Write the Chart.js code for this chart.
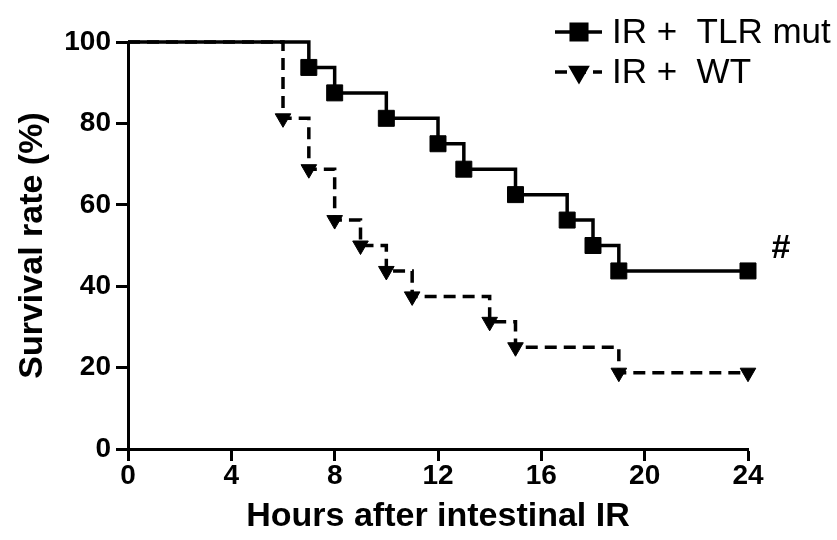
<!DOCTYPE html>
<html>
<head>
<meta charset="utf-8">
<script src="https://cdn.jsdelivr.net/npm/chart.js@4.4.1/dist/chart.umd.min.js"></script>
<style>
  html, body { margin: 0; padding: 0; background: #fff; }
  #wrap { position: relative; width: 837px; height: 540px; }
</style>
</head>
<body>
<div id="wrap"><canvas id="chart" width="837" height="540"></canvas></div>
<script>
// Kaplan-Meier steps: hour of each drop and the survival after it
const tlrHours = [0, 7, 8, 10, 12, 13, 15, 17, 18, 19, 24]
const tlrSurvival = [100, 93.75, 87.5, 81.25, 75, 68.75, 62.5, 56.25, 50, 43.75, 43.75]
const wtHours = [0, 6, 7, 8, 9, 10, 11, 14, 15, 19, 24]
const wtSurvival = [100, 81.25, 68.75, 56.25, 50, 43.75, 37.5, 31.25, 25, 18.75, 18.75]

const seriesNames = ['IR +  TLR mut', 'IR +  WT']
const xTicks = [0, 4, 8, 12, 16, 20, 24]
const yTicks = [0, 20, 40, 60, 80, 100]
const significanceMark = '#'

const FONT = '"Liberation Sans", Arial, sans-serif'

const toPoints = (xs, ys) => xs.map((x, i) => ({ x: x, y: ys[i] }))
// no marker on the starting point at time 0
const markerRadii = (xs, r) => xs.map((x, i) => i === 0 ? 0 : r)

const legendPlugin = {
  id: 'stepLegend',
  afterDraw(chart) {
    const ctx = chart.ctx
    const rows = [
      { y: 32, dash: [], style: 'rect', radius: 11, rotation: 0 },
      { y: 72, dash: [12, 7], style: 'triangle', radius: 9, rotation: 180 },
    ]
    ctx.save()
    rows.forEach((row, i) => {
      ctx.strokeStyle = '#000'
      ctx.fillStyle = '#000'
      ctx.lineWidth = 3.5
      ctx.setLineDash(row.dash)
      ctx.beginPath()
      ctx.moveTo(555, row.y)
      ctx.lineTo(602, row.y)
      ctx.stroke()
      ctx.setLineDash([])
      Chart.helpers.drawPoint(ctx, {
        pointStyle: row.style,
        radius: row.radius,
        rotation: row.rotation,
        borderWidth: 1,
      }, 579, row.y)
      ctx.fillStyle = '#000'
      ctx.font = '35px ' + FONT
      ctx.textBaseline = 'middle'
      ctx.textAlign = 'left'
      ctx.fillText(seriesNames[i], 612, row.y + 1)
    })

    // significance marker next to the last TLR point
    const xs = chart.scales.x
    const ys = chart.scales.y
    ctx.font = 'bold 34px ' + FONT
    ctx.textAlign = 'center'
    ctx.textBaseline = 'middle'
    ctx.fillText(significanceMark,
      xs.getPixelForValue(tlrHours[tlrHours.length - 1]) + 33,
      ys.getPixelForValue(tlrSurvival[tlrSurvival.length - 1]) - 22)
    ctx.restore()
  }
}

const ctx = document.getElementById('chart').getContext('2d')
new Chart(ctx, {
  type: 'line',
  data: {
    datasets: [
      {
        label: seriesNames[0],
        data: toPoints(tlrHours, tlrSurvival),
        stepped: true,
        borderColor: '#000',
        backgroundColor: '#000',
        borderWidth: 3.5,
        pointStyle: 'rect',
        pointRadius: markerRadii(tlrHours, 11.3),
        pointBorderWidth: 1,
        clip: false,
      },
      {
        label: seriesNames[1],
        data: toPoints(wtHours, wtSurvival),
        stepped: true,
        borderColor: '#000',
        backgroundColor: '#000',
        borderWidth: 3.5,
        borderDash: [12, 7],
        pointStyle: 'triangle',
        pointRotation: 180,
        pointRadius: markerRadii(wtHours, 9),
        pointBorderWidth: 1,
        clip: false,
      },
    ]
  },
  options: {
    responsive: false,
    animation: false,
    events: [],
    layout: { padding: { top: 42, right: 89, left: 0, bottom: 0 } },
    plugins: {
      legend: { display: false },
      tooltip: { enabled: false },
    },
    scales: {
      x: {
        type: 'linear',
        min: 0,
        max: 24,
        afterFit(scale) { scale.height = 91 },
        afterBuildTicks(scale) { scale.ticks = xTicks.map(v => ({ value: v })) },
        border: { display: true, width: 3, color: '#000' },
        grid: { drawOnChartArea: false, drawTicks: true, tickLength: 12, tickWidth: 3, color: '#000' },
        ticks: {
          color: '#000',
          padding: 1,
          maxRotation: 0,
          font: { family: FONT, size: 28, weight: 'bold', lineHeight: 1 },
        },
        title: {
          display: true,
          text: 'Hours after intestinal IR',
          color: '#000',
          padding: 10,
          font: { family: FONT, size: 34, weight: 'bold', lineHeight: 0.8 },
        },
      },
      y: {
        min: 0,
        max: 100,
        afterFit(scale) { scale.width = 128 },
        afterBuildTicks(scale) { scale.ticks = yTicks.map(v => ({ value: v })) },
        border: { display: true, width: 3, color: '#000' },
        grid: { drawOnChartArea: false, drawTicks: true, tickLength: 12, tickWidth: 3, color: '#000' },
        ticks: {
          color: '#000',
          padding: 5,
          font: { family: FONT, size: 28, weight: 'bold' },
        },
        title: {
          display: true,
          text: 'Survival rate (%)',
          color: '#000',
          padding: 12,
          font: { family: FONT, size: 34, weight: 'bold' },
        },
      },
    },
  },
  plugins: [legendPlugin],
})
</script>
</body>
</html>
